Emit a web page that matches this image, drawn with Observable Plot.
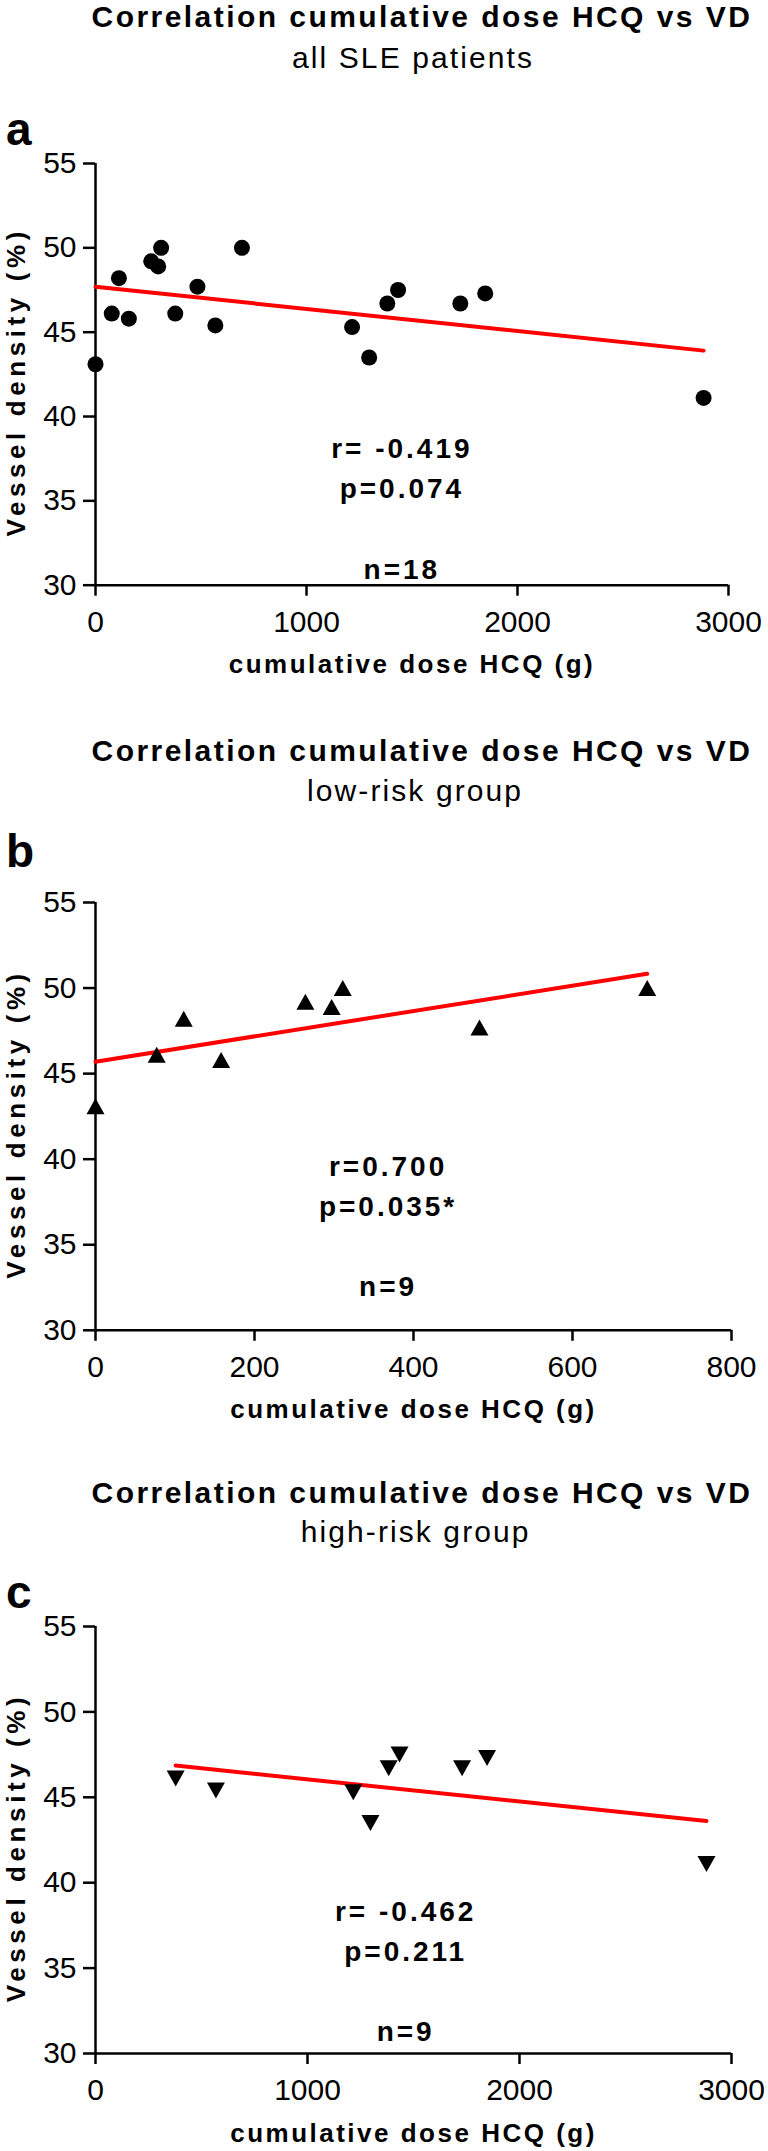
<!DOCTYPE html>
<html>
<head>
<meta charset="utf-8">
<script src="https://cdn.jsdelivr.net/npm/d3@7"></script>
<script src="https://cdn.jsdelivr.net/npm/@observablehq/plot@0.6"></script>
<style>
html, body { margin: 0; padding: 0; background: #fff; }
#page { position: relative; width: 768px; height: 2151px; overflow: hidden; font-family: "Liberation Sans", Arial, sans-serif; color: #000; background: #fff; }
.t { position: absolute; white-space: nowrap; line-height: 1; color: #000; text-align: center; }
.title { font-size: 30px; font-weight: bold; letter-spacing: 2.45px; }
.sub { font-size: 30px; letter-spacing: 2.1px; }
.letter { font-size: 46px; font-weight: bold; text-align: left; }
</style>
</head>
<body>
<div id="page"></div>
<script>
// ---------- data ----------
const chartTitle = "Correlation cumulative dose HCQ vs VD";
const subtitles = ["all SLE patients", "low-risk group", "high-risk group"];
const panelLetters = ["a", "b", "c"];
const xLabel = "cumulative dose HCQ (g)";
const yLabel = "Vessel density (%)";
const yTicks = [30, 35, 40, 45, 50, 55];
const xTicksWide = [0, 1000, 2000, 3000];
const xTicksLow = [0, 200, 400, 600, 800];

const allDose = [0, 77, 111, 158, 264, 297, 311, 378, 483, 568, 694, 1216, 1297, 1383, 1434, 1729, 1847, 2882];
const allVD   = [43.1, 46.1, 48.2, 45.8, 49.2, 48.9, 50.0, 46.1, 47.7, 45.4, 50.0, 45.3, 43.5, 46.7, 47.5, 46.7, 47.3, 41.1];

const lowDose = [0, 77, 111, 158, 264, 297, 311, 483, 694];
const lowVD   = [43.1, 46.1, 48.2, 45.8, 49.2, 48.9, 50.0, 47.7, 50.0];

const highDose = [378, 568, 1216, 1297, 1383, 1434, 1729, 1847, 2882];
const highVD   = [46.1, 45.4, 45.3, 43.5, 46.7, 47.5, 46.7, 47.3, 41.1];

const statsAll  = ["r= -0.419", "p=0.074", "", "n=18"];
const statsLow  = ["r=0.700", "p=0.035*", "", "n=9"];
const statsHigh = ["r= -0.462", "p=0.211", "", "n=9"];

// ---------- layout (pixels) ----------
const layout = [
  {plotTop: 163.3, plotBottom: 585, xRight: 728, titleBase: 27, titleCenter: 420.7, subBase: 68.3, subCenter: 412, letterBase: 145, statX: 1452, statY: 39.2},
  {plotTop: 901.7, plotBottom: 1329.5, xRight: 731, titleBase: 761.7, titleCenter: 420.7, subBase: 801.7, subCenter: 414, letterBase: 866.7, statX: 368, statY: 40.7},
  {plotTop: 1625.7, plotBottom: 2052.7, xRight: 731, titleBase: 1503, titleCenter: 420.7, subBase: 1542, subCenter: 414.6, letterBase: 1608, statX: 1463, statY: 39.4}
];

const FONT = '"Liberation Sans", Arial, sans-serif';
const page = document.getElementById("page");

// bbox-centred triangles
const triUp = {draw(ctx, size) { const s = Math.sqrt(size / Math.PI); ctx.moveTo(0, -s); ctx.lineTo(1.125 * s, s); ctx.lineTo(-1.125 * s, s); ctx.closePath(); }};
const triDown = {draw(ctx, size) { const s = Math.sqrt(size / Math.PI); ctx.moveTo(0, s); ctx.lineTo(1.125 * s, -s); ctx.lineTo(-1.125 * s, -s); ctx.closePath(); }};

// centred text: a box of width 2*center, text centred in it
function addCentered(cls, text, center, top, spacing) {
  const d = document.createElement("div");
  d.className = "t " + cls;
  d.textContent = text;
  const c = center + spacing / 2;
  d.style.left = "0px";
  d.style.width = (2 * c) + "px";
  d.style.top = top + "px";
  page.appendChild(d);
}
function addLeft(cls, text, left, top) {
  const d = document.createElement("div");
  d.className = "t " + cls;
  d.textContent = text;
  d.style.left = left + "px";
  d.style.top = top + "px";
  page.appendChild(d);
}

function makePanel(i, xs, ys, xTicks, symbol, stats) {
  const L = layout[i];
  const mt = 20, mb = (i === 2 ? 97 : 100);
  const h = mt + (L.plotBottom - L.plotTop) + mb;
  const data = xs.map((x, k) => ({dose: x, vd: ys[k]}));
  const xDomain = [xTicks[0], xTicks[xTicks.length - 1]];
  const svg = Plot.plot({
    width: 768,
    height: h,
    marginTop: mt,
    marginBottom: mb,
    marginLeft: 95,
    marginRight: 768 - L.xRight,
    style: {fontFamily: FONT, fontSize: "30px", background: "transparent", color: "#000", overflow: "visible"},
    x: {domain: xDomain},
    y: {domain: [yTicks[0], yTicks[yTicks.length - 1]]},
    marks: [
      Plot.axisX({ticks: xTicks, tickFormat: d => String(d), tickSize: 11, tickPadding: 14, strokeWidth: 2.5, fontSize: 30, label: null}),
      Plot.axisY({ticks: yTicks, tickFormat: d => String(d), tickSize: 12, tickPadding: 7, strokeWidth: 2.5, fontSize: 30, label: null}),
      Plot.ruleX([xDomain[0]], {strokeWidth: 2.5}),
      Plot.ruleY([yTicks[0]], {strokeWidth: 2.5}),
      Plot.linearRegressionY(data, {x: "dose", y: "vd", stroke: "#ff0000", strokeWidth: 4, ci: 0}),
      Plot.dot(data, {x: "dose", y: "vd", r: 8, symbol: symbol, fill: "#000", stroke: "none"}),
      Plot.text([stats.join("\n")], {x: () => L.statX, y: () => L.statY, text: d => d, textAnchor: "middle", lineAnchor: "top", lineHeight: 1.43, fontSize: 28, fontWeight: "bold", fill: "#000"}),
      Plot.text([xLabel], {text: d => d, frameAnchor: "bottom", textAnchor: "middle", lineAnchor: "bottom", dy: 88, fontSize: 26, fontWeight: "bold", fill: "#000"}),
      Plot.text([yLabel], {text: d => d, frameAnchor: "left", textAnchor: "middle", lineAnchor: "middle", rotate: -90, dx: -79.3, dy: 7.5, fontSize: 26, fontWeight: "bold", fill: "#000"})
    ]
  });
  // letter spacing of the bold annotation texts
  svg.querySelectorAll("text").forEach(t => {
    const s = t.textContent;
    if (s === xLabel) t.style.letterSpacing = "2.5px";
    else if (s === yLabel) t.style.letterSpacing = "4.6px";
    else if (s === stats.join("")) t.style.letterSpacing = "3px";
  });
  svg.style.position = "absolute";
  svg.style.left = "0px";
  svg.style.top = (L.plotTop - mt) + "px";
  page.appendChild(svg);

  addCentered("title", chartTitle, L.titleCenter, L.titleBase - 0.8465 * 30, 2.45);
  addCentered("sub", subtitles[i], L.subCenter, L.subBase - 0.8465 * 30, 2.1);
  addLeft("letter", panelLetters[i], 6, L.letterBase - 0.8465 * 46);
}

makePanel(0, allDose, allVD, xTicksWide, "circle", statsAll);
makePanel(1, lowDose, lowVD, xTicksLow, triUp, statsLow);
makePanel(2, highDose, highVD, xTicksWide, triDown, statsHigh);
</script>
</body>
</html>
